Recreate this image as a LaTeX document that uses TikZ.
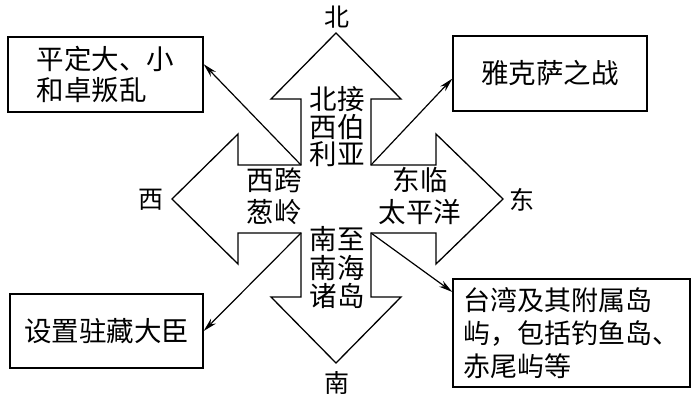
\documentclass[tikz,border=0pt]{standalone}
\usepackage{fontspec}
\newfontfamily\cjk{Noto Sans CJK SC}
\usetikzlibrary{arrows.meta}
\begin{document}
\begin{tikzpicture}[x=1pt,y=-1pt,
  box/.style={draw,line width=1.3pt,inner sep=0pt,align=left,
    font=\cjk\fontsize{27.5}{31}\selectfont},
  lbl/.style={inner sep=0pt,align=center},
  dirlbl/.style={inner sep=0pt,font=\cjk\fontsize{25}{27}\selectfont},
  link/.style={line width=1.2pt,-{Stealth[length=14pt,width=7pt]}},
  cross/.style={draw,line width=1.3pt,line join=miter}]
\useasboundingbox (0,0) rectangle (695,398);

% boxes
\node[box,minimum width=195pt,minimum height=75pt] (b1) at (105.5,74.5) {平定大、小\\和卓叛乱};
\node[box,minimum width=194pt,minimum height=75pt] (b2) at (550,73.5) {雅克萨之战};
\node[box,minimum width=193pt,minimum height=74pt] (b3) at (106.5,331) {设置驻藏大臣};
\node[box,minimum width=237pt,minimum height=108pt,font=\cjk\fontsize{27}{33}\selectfont] (b4) at (571.5,333) {台湾及其附属岛\\屿，包括钓鱼岛、\\赤尾屿等};

% cross
\coordinate (cnw) at (301,165);
\coordinate (cne) at (371,165);
\coordinate (csw) at (301,233);
\coordinate (cse) at (371,233);
\draw[cross] (cnw) -- (301,99) -- (271,99) -- (336,33) -- (401,99) -- (371,99) -- (cne)
  -- (436,165) -- (436,134) -- (503,199) -- (436,264) -- (436,233) -- (cse)
  -- (371,297) -- (401,297) -- (336,363) -- (271,297) -- (301,297) -- (csw)
  -- (238,233) -- (238,264) -- (172,199) -- (238,134) -- (238,165) -- cycle;

% texts inside the cross
\node[lbl,font=\cjk\fontsize{27.5}{27.5}\selectfont] (tn) at (337,127) {北接\\西伯\\利亚};
\node[lbl,font=\cjk\fontsize{27.5}{32}\selectfont] (tw) at (274,196) {西跨\\葱岭};
\node[lbl,font=\cjk\fontsize{27.5}{32}\selectfont] (te) at (420,196) {东临\\太平洋};
\node[lbl,font=\cjk\fontsize{27.5}{28.5}\selectfont] (ts) at (337,268) {南至\\南海\\诸岛};

% direction labels
\node[dirlbl] (dn) at (337,17) {北};
\node[dirlbl] (ds) at (337,383) {南};
\node[dirlbl] (dw) at (151,200) {西};
\node[dirlbl] (de) at (522,200) {东};

% connectors
\draw[link] (cnw) -- (b1.6);
\draw[link] (cne) -- (b2.183);
\draw[link] (csw) -- (b3.east);
\draw[link] (cse) -- (b4.161);
\end{tikzpicture}
\end{document}
